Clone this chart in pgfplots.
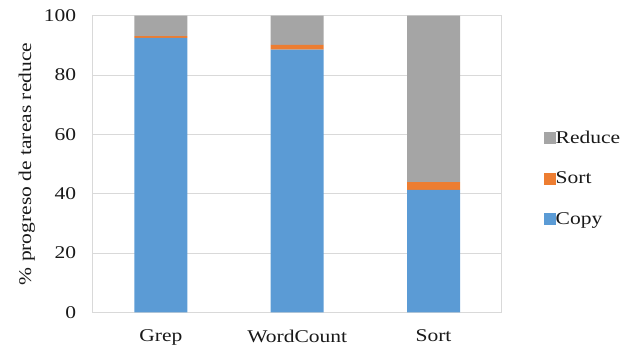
\documentclass[border=0pt]{standalone}
\usepackage{pgfplots}
\pgfplotsset{compat=1.18}
\usepackage{fontspec}
\setmainfont{Liberation Serif}[FakeStretch=1.2]
\definecolor{cblue}{RGB}{91,155,213}
\definecolor{corange}{RGB}{237,125,49}
\definecolor{cgray}{RGB}{165,165,165}
\definecolor{gridc}{RGB}{217,217,217}
\begin{document}
\begin{tikzpicture}[x=1bp,y=1bp]
\useasboundingbox (0,0) rectangle (637,350);
\begin{axis}[
  at={(92.7bp,37.7bp)}, anchor=south west,
  scale only axis, width=409bp, height=296.6bp,
  ybar stacked, bar width=53bp,
  xmin=-0.5, xmax=2.5, ymin=0, ymax=100,
  xtick=data, xticklabels={Grep,WordCount,Sort},
  ytick={0,20,40,60,80,100},
  ymajorgrids, grid style={gridc, line width=0.8pt},
  axis line style={gridc, line width=0.8pt},
  major tick length=0pt,
  tick label style={font=\fontsize{18}{21}\selectfont, text=black!90},
  /pgf/number format/assume math mode=true,
  yticklabel style={xshift=-13bp},
  xticklabel style={yshift=-14bp},
  ylabel={\% progreso de tareas reduce},
  every axis y label/.style={at={(ticklabel cs:0.5)}, rotate=90, anchor=near ticklabel,
    font=\fontsize{18}{21}\selectfont, text=black!90, yshift=2bp},
  legend style={draw=none, fill=none, at={(1.095,0.452)}, anchor=west,
    font=\fontsize{18}{21}\selectfont, text=black!90, row sep=23bp,
    /tikz/every even column/.append style={column sep=0bp},
    /tikz/every odd column/.append style={column sep=-2bp}},
  legend cell align=left,
  reverse legend,
  legend image code/.code={\fill[#1] (0bp,-6bp) rectangle (12bp,6bp);},
]
\addplot[fill=cblue, draw=none] coordinates {(0,92.5) (1,88.6) (2,41.3)};
\addplot[fill=corange, draw=none] coordinates {(0,0.6) (1,1.6) (2,2.6)};
\addplot[fill=cgray, draw=none] coordinates {(0,6.9) (1,9.8) (2,56.1)};
\legend{Copy,Sort,Reduce}
\end{axis}
\end{tikzpicture}
\end{document}
